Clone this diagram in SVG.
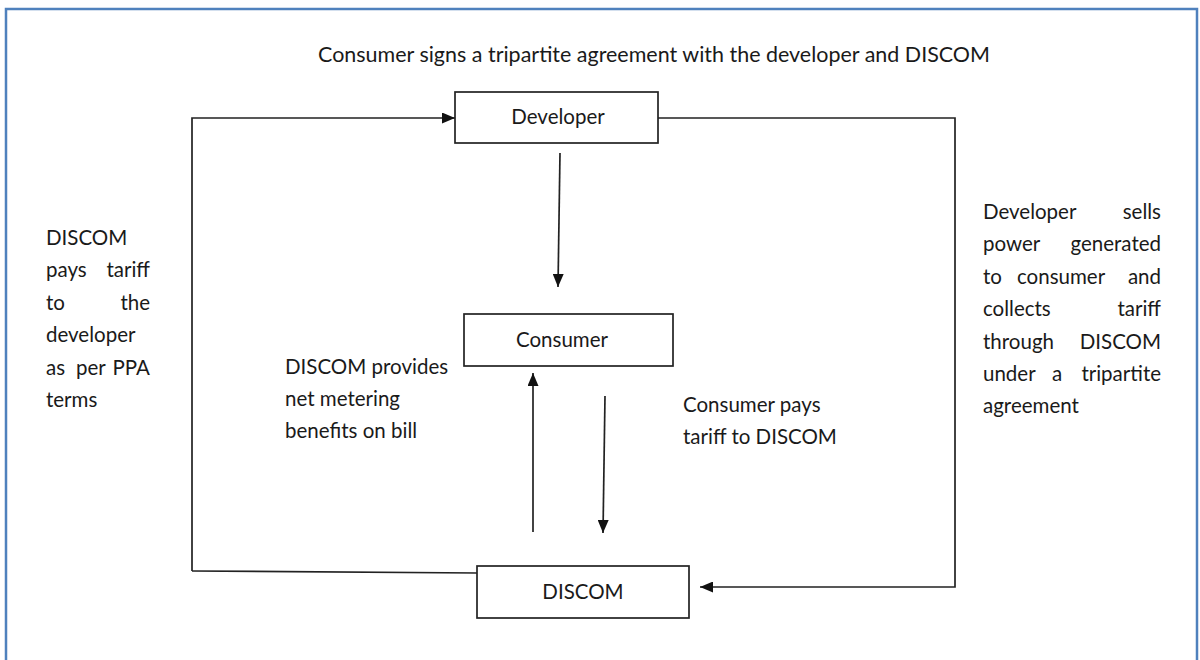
<svg xmlns="http://www.w3.org/2000/svg" width="1200" height="660" viewBox="0 0 1200 660">
<defs>
<marker id="ah" viewBox="0 0 13 11" refX="13" refY="5.5" markerWidth="13" markerHeight="11" markerUnits="userSpaceOnUse" orient="auto">
<path d="M0,0 L13,5.5 L0,11 z" fill="#111"/>
</marker>
</defs>
<style>
text{font-family:Lato,"Open Sans","Liberation Sans",sans-serif;font-size:20.5px;fill:#1a1a1a}
.box{fill:#fff;stroke:#222;stroke-width:1.7}
.ln{fill:none;stroke:#222;stroke-width:1.7}
.c{text-anchor:middle}
.e{text-anchor:end}
</style>
<rect x="0" y="0" width="1200" height="660" fill="#fff"/>
<rect x="6" y="9" width="1191" height="700" fill="none" stroke="#4F81BD" stroke-width="2.5"/>
<g id="title"><text x="318" y="62" textLength="672" lengthAdjust="spacingAndGlyphs">Consumer signs a tripartite agreement with the developer and DISCOM</text></g>
<g id="connectors">
<path class="ln" d="M192,571 L192,118 L455,118" marker-end="url(#ah)"/>
<path class="ln" d="M658,118 L955,118 L955,587 L700,587" marker-end="url(#ah)"/>
<path class="ln" d="M477,573 L192,571"/>
<path class="ln" d="M560,153 L558,287" marker-end="url(#ah)"/>
<path class="ln" d="M533,532 L533,373" marker-end="url(#ah)"/>
<path class="ln" d="M605,396 L603,533" marker-end="url(#ah)"/>
</g>
<g id="developer"><rect class="box" x="455" y="92" width="203" height="51"/><text class="c" x="558" y="124">Developer</text></g>
<g id="consumer"><rect class="box" x="464" y="314" width="209" height="52"/><text class="c" x="562" y="347">Consumer</text></g>
<g id="discom"><rect class="box" x="477" y="566" width="212" height="52"/><text class="c" x="583" y="599">DISCOM</text></g>
<g id="left-label">
<text x="46" y="245">DISCOM</text>
<text x="46" y="277">pays</text><text class="e" x="150" y="277">tariff</text>
<text x="46" y="310">to</text><text class="e" x="150" y="310">the</text>
<text x="46" y="342">developer</text>
<text x="46" y="375">as</text><text x="76" y="375">per</text><text class="e" x="150" y="375">PPA</text>
<text x="46" y="407">terms</text>
</g>
<g id="right-label">
<text x="983" y="219">Developer</text><text class="e" x="1161" y="219">sells</text>
<text x="983" y="251">power</text><text class="e" x="1161" y="251">generated</text>
<text x="983" y="284">to</text><text x="1017" y="284">consumer</text><text class="e" x="1161" y="284">and</text>
<text x="983" y="316">collects</text><text class="e" x="1161" y="316">tariff</text>
<text x="983" y="349">through</text><text class="e" x="1161" y="349">DISCOM</text>
<text x="983" y="381">under</text><text x="1052" y="381">a</text><text class="e" x="1161" y="381">tripartite</text>
<text x="983" y="413">agreement</text>
</g>
<g id="mid-left-label">
<text x="285" y="374">DISCOM provides</text>
<text x="285" y="406">net metering</text>
<text x="285" y="438">benefits on bill</text>
</g>
<g id="mid-right-label">
<text x="683" y="412">Consumer pays</text>
<text x="683" y="444">tariff to DISCOM</text>
</g>
</svg>
